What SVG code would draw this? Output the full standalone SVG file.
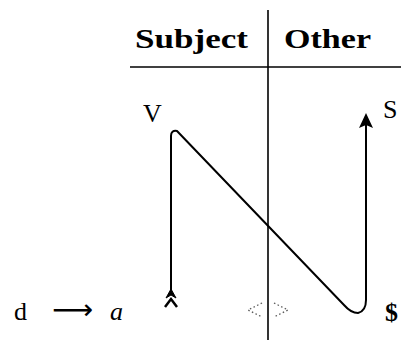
<svg xmlns="http://www.w3.org/2000/svg" width="401" height="340" viewBox="0 0 401 340">
<defs>
<style>
.hdr{font-family:"Liberation Serif",serif;font-weight:bold;font-size:27px;fill:#000}
.lbl{font-family:"Liberation Serif",serif;font-size:26px;fill:#000}
.rule{stroke:#000;stroke-width:1.6;fill:none}
.flow{stroke:#000;stroke-width:2;fill:none;stroke-linejoin:round}
</style>
<marker id="head" viewBox="0 0 16 16" refX="9" refY="8" markerWidth="16" markerHeight="16" markerUnits="userSpaceOnUse" orient="auto">
<path d="M16,8 L1,1 L4,8 L1,15 Z" fill="#000"/>
</marker>
</defs>
<g id="table">
<line class="rule" x1="268" y1="10" x2="268" y2="340"/>
<line class="rule" x1="130" y1="67" x2="401" y2="67"/>
<text class="hdr" x="135" y="48" textLength="113" lengthAdjust="spacingAndGlyphs">Subject</text>
<text class="hdr" x="284" y="48" textLength="87" lengthAdjust="spacingAndGlyphs">Other</text>
</g>
<g id="node-V"><text class="lbl" x="143" y="122" font-size="28">V</text></g>
<g id="node-S"><text class="lbl" x="383" y="118" font-size="23">S</text></g>
<g id="node-dollar"><text class="lbl" x="385" y="321" font-size="27" font-weight="bold">$</text></g>
<g id="node-da">
<text class="lbl" x="14" y="320" font-size="29">d</text>
<text x="52" y="319" font-family="DejaVu Sans,sans-serif" font-size="28" textLength="41" lengthAdjust="spacingAndGlyphs">⟶</text>
<text class="lbl" x="110" y="320" font-size="31" font-style="italic">a</text>
</g>
<g id="node-diamond">
<polyline points="262,303 248,310 262,317" fill="none" stroke="#555" stroke-width="1.3" stroke-dasharray="1.5,2.5"/>
<polyline points="274,303 288,310 274,317" fill="none" stroke="#555" stroke-width="1.3" stroke-dasharray="1.5,2.5"/>
</g>
<g id="connectors">
<path class="flow" d="M171,292 L171,136 Q171,130 177,131 L344,305 Q351,313 358,313 Q366,311 366,300 L366,120" marker-end="url(#head)"/>
<path d="M171,289 L176,298 L171,295 L166,298 Z" fill="#000" stroke="#000" stroke-width="1"/>
<path d="M165,307 L171,299 L177,307" fill="none" stroke="#000" stroke-width="2.5"/>
</g>
</svg>
